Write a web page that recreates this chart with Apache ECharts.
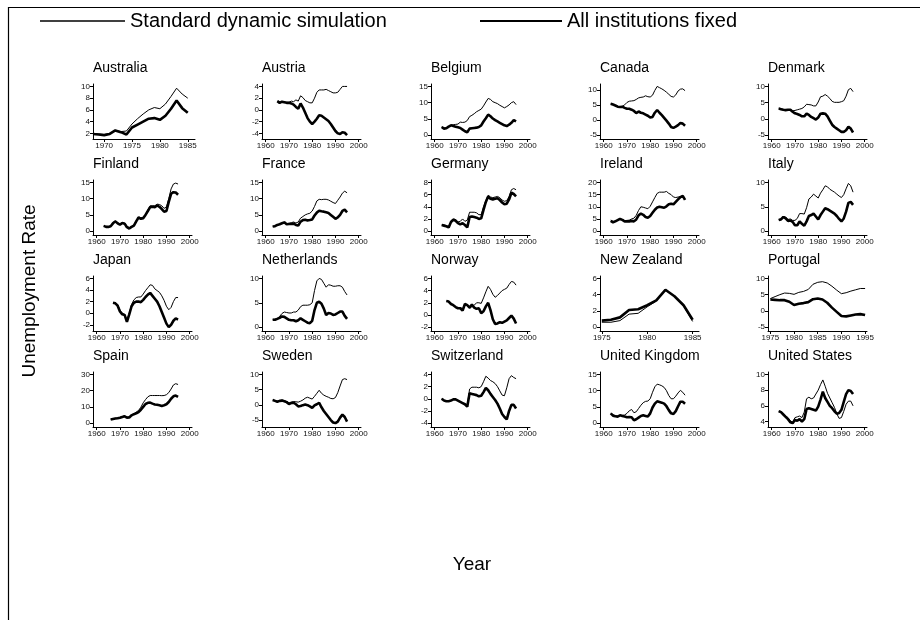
<!DOCTYPE html>
<html><head><meta charset="utf-8">
<script src="https://cdn.jsdelivr.net/npm/echarts@6/dist/echarts.min.js"></script>
<style>html,body{margin:0;padding:0;background:#fff}#c{width:920px;height:620px}</style>
</head><body><div id="c"></div><script>
// ---------- DATA ----------
const countries = ['Australia','Austria','Belgium','Canada','Denmark','Finland','France','Germany','Ireland','Italy',
  'Japan','Netherlands','Norway','New Zealand','Portugal','Spain','Sweden','Switzerland','United Kingdom','United States'];

const yrs6885 = [1968,1969,1970,1971,1972,1973,1974,1975,1976,1977,1978,1979,1980,1981,1982,1983,1984,1985];
const yrs6395 = [1963,1964,1965,1966,1967,1968,1969,1970,1971,1972,1973,1974,1975,1976,1977,1978,1979,1980,1981,1982,1983,1984,1985,1986,1987,1988,1989,1990,1991,1992,1993,1994,1995];
const yrs6595 = [1965,1966,1967,1968,1969,1970,1971,1972,1973,1974,1975,1976,1977,1978,1979,1980,1981,1982,1983,1984,1985,1986,1987,1988,1989,1990,1991,1992,1993,1994,1995];
const yrs6695 = [1966,1967,1968,1969,1970,1971,1972,1973,1974,1975,1976,1977,1978,1979,1980,1981,1982,1983,1984,1985,1986,1987,1988,1989,1990,1991,1992,1993,1994,1995];
const yrs6795 = [1967,1968,1969,1970,1971,1972,1973,1974,1975,1976,1977,1978,1979,1980,1981,1982,1983,1984,1985,1986,1987,1988,1989,1990,1991,1992,1993,1994,1995];
const yrs7585 = [1975,1976,1977,1978,1979,1980,1981,1982,1983,1984,1985];
const yrs7595 = [1975,1976,1977,1978,1979,1980,1981,1982,1983,1984,1985,1986,1987,1988,1989,1990,1991,1992,1993,1994,1995];

const xTicks60 = [1960,1970,1980,1990,2000];
const xTicksAus = [1970,1975,1980,1985];
const xTicksNZ = [1975,1980,1985];
const xTicksPrt = [1975,1980,1985,1990,1995];

const australiaStd = [1.9,1.9,1.8,2.0,2.5,2.3,2.4,3.6,4.5,5.3,6.0,6.4,6.2,7.0,8.3,9.7,8.7,8.0];
const australiaFix = [1.9,1.8,1.7,1.9,2.5,2.2,1.8,3.0,3.5,4.0,4.5,4.6,4.3,5.0,6.2,7.6,6.3,5.5];
const austriaStd = [1.5,1.3,1.4,1.3,1.3,1.3,1.5,1.4,1.7,1.5,2.4,2.1,1.6,1.4,1.2,1.2,2.0,3.0,3.4,3.4,3.4,3.5,3.3,3.1,2.9,2.9,3.0,3.5,4.0,4.0,4.0];
const austriaFix = [1.5,1.2,1.4,1.3,1.2,1.2,1.1,0.9,0.5,0.2,1.1,0.4,-0.5,-1.4,-2.0,-2.4,-2.0,-1.5,-0.9,-1.0,-1.3,-1.6,-1.9,-2.4,-3.0,-3.6,-4.0,-4.1,-3.8,-3.9,-4.3];
const belgiumStd = [2.5,2.2,2.3,2.5,3.0,3.2,3.3,3.4,4.0,3.9,4.0,4.5,5.7,6.1,6.6,7.2,7.6,8.0,9.0,10.2,11.3,11.0,10.3,10.0,9.7,9.2,8.8,8.4,8.8,9.3,10.0,10.3,9.4];
const belgiumFix = [2.5,2.0,2.1,2.6,3.0,2.8,2.6,2.4,2.2,1.7,1.2,0.9,2.0,2.1,2.2,2.3,2.5,3.0,4.2,5.2,6.3,5.8,5.1,4.6,4.2,3.8,3.4,3.0,2.8,3.2,3.8,4.6,4.2];
const canadaStd = [5.5,5.2,4.8,4.5,4.3,4.5,5.0,5.8,6.2,6.3,6.4,6.8,7.3,7.5,7.6,8.0,7.7,7.6,8.2,9.8,11.1,10.7,10.3,9.8,9.2,8.5,7.8,7.6,8.3,9.6,10.2,10.3,9.7];
const canadaFix = [5.4,5.1,4.8,4.4,4.3,4.4,4.0,3.7,3.7,3.4,3.0,2.3,2.8,2.4,2.2,1.8,1.4,0.8,1.0,2.4,3.3,2.4,1.6,0.7,-0.2,-1.2,-2.3,-2.6,-2.2,-1.7,-1.0,-1.2,-1.9];
const denmarkStd = [3.3,3.0,2.9,2.8,2.8,2.9,2.5,2.6,2.8,3.0,3.2,3.7,4.5,4.4,4.3,4.0,4.0,5.2,6.8,7.0,7.5,7.0,6.3,5.4,5.1,5.1,5.1,5.3,5.6,7.0,9.0,9.4,8.4];
const denmarkFix = [3.2,3.0,2.8,2.7,2.8,2.8,2.2,1.7,1.5,1.2,0.8,0.8,1.6,1.2,0.6,0.2,-0.2,0.4,1.6,1.7,1.6,0.8,-0.5,-1.8,-2.5,-3.0,-3.5,-4.0,-4.0,-3.5,-2.4,-3.0,-4.2];
const finlandStd = [1.6,1.4,1.4,1.6,2.6,3.2,2.6,2.2,2.6,2.5,1.5,1.1,1.4,1.8,3.2,4.3,4.1,4.2,5.2,6.5,7.8,7.8,7.8,8.3,8.2,7.8,7.0,7.5,10.0,13.0,14.5,14.8,14.5];
const finlandFix = [1.6,1.3,1.3,1.5,2.4,3.0,2.4,2.0,2.5,2.3,1.2,0.8,1.3,1.7,3.0,4.2,3.8,4.0,5.0,6.2,7.4,7.5,7.4,7.9,7.5,6.8,6.0,6.2,9.0,11.5,12.0,11.9,11.2];
const franceStd = [1.5,1.6,1.9,2.1,2.4,2.8,2.3,2.4,2.6,2.8,2.5,2.8,4.0,4.5,5.0,5.3,5.5,6.2,7.6,9.3,9.8,9.7,9.8,9.8,9.6,9.2,8.8,8.5,9.5,10.5,11.7,12.3,11.8];
const franceFix = [1.4,1.5,1.9,2.1,2.4,2.7,2.1,2.2,2.2,2.3,1.9,1.7,2.9,3.4,3.5,3.3,3.4,3.6,4.8,5.7,6.3,6.1,6.0,5.8,5.6,5.0,4.4,3.8,4.2,5.0,6.2,6.6,5.8];
const germanyStd = [1.0,1.0,0.9,0.7,1.6,2.0,1.9,1.5,1.6,2.0,1.6,1.8,3.1,3.1,3.1,3.0,2.7,2.7,4.0,5.0,5.9,5.6,5.5,5.6,5.7,5.5,5.1,4.9,5.0,5.7,6.8,7.0,6.8];
const germanyFix = [1.0,0.9,0.8,0.6,1.5,1.9,1.7,1.3,1.1,1.3,1.0,0.6,2.3,2.4,2.3,2.2,2.0,2.1,3.5,4.8,5.7,5.3,5.2,5.3,5.4,5.1,4.7,4.4,4.5,5.2,6.3,6.1,5.7];
const irelandStd = [4.5,4.0,4.2,4.5,5.0,4.8,4.3,4.4,4.5,5.0,5.3,6.5,8.5,10.0,9.8,9.5,9.2,10.2,12.0,13.8,15.5,16.0,16.0,16.0,16.3,15.5,15.0,14.0,13.8,14.0,14.2,14.0,13.0];
const irelandFix = [4.2,3.6,4.0,4.5,5.0,4.6,4.0,4.0,4.0,4.2,4.0,4.8,6.5,7.2,6.7,5.8,5.5,6.2,7.5,8.8,9.7,10.0,9.8,9.6,10.2,11.0,11.2,11.0,12.0,13.0,14.0,14.5,12.8];
const italyStd = [2.4,2.5,3.0,2.9,2.4,2.5,2.2,2.2,2.6,3.6,3.6,3.5,4.8,6.6,7.0,7.6,7.2,6.8,7.8,8.5,9.3,9.1,8.6,8.3,8.0,7.6,7.2,6.9,7.5,8.7,9.8,9.3,8.0];
const italyFix = [2.3,2.4,2.9,2.6,2.1,2.2,1.9,1.2,1.2,2.0,1.5,1.1,2.0,3.1,3.3,3.6,3.0,2.4,3.3,4.0,4.7,4.5,4.2,3.9,3.6,3.1,2.5,2.0,2.6,4.0,5.8,6.0,5.4];
const japanStd = [1.8,1.8,1.5,0.5,0.0,-0.2,-1.3,0.0,1.5,2.3,2.7,2.8,2.8,3.3,3.9,4.4,4.9,4.8,4.2,3.9,3.6,3.0,2.2,1.2,0.6,1.0,2.0,2.7,2.7];
const japanFix = [1.8,1.7,1.3,0.3,-0.2,-0.3,-1.5,-0.2,1.2,1.8,2.0,2.0,1.9,2.3,2.8,3.2,3.5,3.0,2.5,2.0,1.2,0.2,-0.8,-1.8,-2.4,-2.0,-1.3,-0.9,-1.1];
const netherlandsStd = [1.6,1.6,1.8,2.2,2.8,3.1,3.0,2.9,2.9,3.1,3.1,3.5,4.2,4.5,4.5,4.5,4.6,5.0,7.5,9.5,10.0,9.8,9.0,8.2,8.7,8.6,8.4,8.4,8.5,8.5,8.2,7.3,6.6];
const netherlandsFix = [1.5,1.5,1.7,1.9,2.2,2.1,1.8,1.5,1.4,1.4,1.2,1.4,1.8,1.5,1.2,0.9,0.8,1.3,3.5,5.0,5.2,4.8,3.8,2.5,2.9,2.8,2.5,2.6,2.9,3.2,3.2,2.3,1.7];
const norwayStd = [2.3,2.2,1.9,1.6,1.3,1.1,1.2,1.0,1.8,1.5,1.1,1.4,1.6,2.0,2.0,1.9,2.8,3.8,4.7,4.2,3.4,2.9,3.2,3.6,4.0,4.2,4.4,5.0,5.5,5.4,4.9];
const norwayFix = [2.3,2.2,1.8,1.6,1.3,1.1,1.1,0.7,1.8,1.6,1.2,1.7,1.2,1.0,1.1,0.3,0.6,1.4,2.0,0.8,-0.7,-1.5,-1.4,-1.2,-1.3,-1.1,-0.9,-0.5,-0.1,-0.6,-1.4];
const newZealandStd = [0.6,0.6,0.8,1.6,1.7,2.5,3.2,4.6,3.8,2.6,0.7];
const newZealandFix = [0.8,0.9,1.2,2.1,2.2,2.7,3.3,4.6,3.8,2.7,0.9];
const portugalStd = [3.8,4.4,5.0,5.5,5.4,5.1,5.7,6.0,6.6,8.2,8.8,9.0,8.6,7.6,6.4,5.3,5.6,6.1,6.5,6.9,6.9];
const portugalFix = [3.5,3.4,3.3,3.3,2.8,1.8,2.2,2.4,2.7,3.6,3.8,3.5,2.5,1.0,-0.3,-1.6,-1.7,-1.4,-1.1,-1.0,-1.3];
const spainStd = [2.4,2.6,3.0,3.2,3.5,4.0,4.5,3.6,3.8,5.0,5.8,6.8,7.8,9.8,12.5,14.5,16.2,17.0,17.0,17.0,17.0,17.0,16.9,17.0,17.5,18.8,21.0,23.5,24.3,23.8];
const spainFix = [2.2,2.5,2.8,3.0,3.3,3.8,4.2,3.4,3.5,4.8,5.5,6.0,6.8,8.2,10.0,11.8,12.5,12.6,12.0,11.5,11.3,11.0,10.6,11.0,11.6,13.0,15.0,16.5,17.0,16.2];
const swedenStd = [1.6,1.4,1.2,1.3,1.6,1.4,1.1,0.6,0.9,1.1,1.0,0.9,1.2,1.6,2.2,2.5,2.2,1.9,2.8,3.8,4.8,3.8,3.2,2.8,2.5,2.1,2.0,2.4,4.0,6.2,8.3,8.6,8.3];
const swedenFix = [1.6,1.3,1.0,1.3,1.4,1.2,0.9,0.3,0.6,0.7,0.2,-0.5,-0.4,-0.1,0.1,-0.1,-0.5,-1.0,-0.2,0.2,0.7,-0.8,-2.0,-3.0,-4.0,-5.0,-5.8,-6.0,-5.5,-4.2,-3.2,-4.0,-5.5];
const switzerlandStd = [0.0,-0.3,-0.4,-0.4,-0.3,-0.1,-0.1,-0.3,-0.5,-0.7,-0.9,-1.2,1.6,1.9,1.9,1.9,1.8,2.0,2.8,3.7,3.4,3.0,2.8,2.5,2.0,1.3,0.6,0.5,1.8,3.3,3.8,3.5,3.3];
const switzerlandFix = [0.0,-0.3,-0.4,-0.4,-0.3,-0.1,-0.1,-0.3,-0.5,-0.7,-0.9,-1.3,0.9,0.8,0.7,0.6,0.4,0.5,1.1,1.8,1.4,0.8,0.3,-0.2,-0.8,-1.6,-2.5,-3.0,-3.4,-2.0,-1.0,-1.0,-1.6];
const ukStd = [3.0,2.6,2.3,2.2,2.4,2.4,2.5,3.0,3.8,4.2,3.2,3.5,4.5,5.5,6.3,6.7,6.8,7.5,9.5,11.2,12.0,11.8,11.5,11.0,10.0,8.5,7.5,7.5,8.3,9.3,10.1,9.5,8.6];
const ukFix = [3.0,2.3,2.1,2.0,2.4,2.2,2.0,1.8,1.9,1.8,0.9,1.2,1.7,2.2,2.4,2.2,2.0,3.0,4.8,6.0,6.7,6.5,6.3,6.0,5.2,4.0,3.0,2.8,3.7,5.2,6.6,6.6,6.0];
const usStd = [5.3,5.3,5.0,4.7,4.5,4.1,3.9,4.5,4.6,4.7,4.5,5.2,6.9,7.1,6.9,7.0,7.5,8.0,8.7,9.3,8.5,7.6,7.0,6.4,5.8,5.0,4.4,4.5,5.3,6.2,6.6,6.6,6.0];
const usFix = [5.3,5.2,4.9,4.6,4.3,3.9,3.8,4.2,4.1,4.3,4.0,4.3,5.6,5.7,5.6,5.5,5.4,5.9,6.8,7.8,7.0,6.5,6.0,5.7,5.3,5.0,5.1,5.5,6.5,7.5,8.0,7.9,7.5];

const yTicks = [[2,4,6,8,10],[-4,-2,0,2,4],[0,5,10,15],[-5,0,5,10],[-5,0,5,10],
  [0,5,10,15],[0,5,10,15],[0,2,4,6,8],[0,5,10,15,20],[0,5,10],
  [-2,0,2,4,6],[0,5,10],[-2,0,2,4,6],[0,2,4,6],[-5,0,5,10],
  [0,10,20,30],[-5,0,5,10],[-4,-2,0,2,4],[0,5,10,15],[4,6,8,10]];

const panelYears = [yrs6885,yrs6595,yrs6395,yrs6395,yrs6395,yrs6395,yrs6395,yrs6395,yrs6395,yrs6395,
  yrs6795,yrs6395,yrs6595,yrs7585,yrs7595,yrs6695,yrs6395,yrs6395,yrs6395,yrs6395];
const stdValues = [australiaStd,austriaStd,belgiumStd,canadaStd,denmarkStd,finlandStd,franceStd,germanyStd,irelandStd,italyStd,
  japanStd,netherlandsStd,norwayStd,newZealandStd,portugalStd,spainStd,swedenStd,switzerlandStd,ukStd,usStd];
const fixValues = [australiaFix,austriaFix,belgiumFix,canadaFix,denmarkFix,finlandFix,franceFix,germanyFix,irelandFix,italyFix,
  japanFix,netherlandsFix,norwayFix,newZealandFix,portugalFix,spainFix,swedenFix,switzerlandFix,ukFix,usFix];
const panelXTicks = countries.map(n => n==='Australia'?xTicksAus : n==='New Zealand'?xTicksNZ : n==='Portugal'?xTicksPrt : xTicks60);

const legendNames = ['Standard dynamic simulation','All institutions fixed'];

// ---------- LAYOUT ----------
const FONT = '"Liberation Sans", Arial, Helvetica, sans-serif';
const colLeft = [93,262,431,600,768];
const rowTop = [84,180,276,372];
const plotW = 99, plotH = 55;
const xRangeDefault = [1958.4, 2001];
const xRangeSpecial = {'Australia':[1968,1986.3],'New Zealand':[1974.8,1985.7],'Portugal':[1974.5,1995.4]};
const plainNum = v => String(v);

const grid=[], xAxis=[], yAxis=[], series=[], title=[];
countries.forEach((name,i)=>{
  const r=Math.floor(i/5), c=i%5;
  const left=colLeft[c], top=rowTop[r];
  const w = name==='Australia'?102:plotW;
  grid.push({left:left, top:top, width:w, height:plotH, containLabel:false});
  const yrs=panelYears[i], s=stdValues[i], f=fixValues[i], yt=yTicks[i], xt=panelXTicks[i];
  const xr = xRangeSpecial[name] || xRangeDefault;
  const all=s.concat(f, yt);
  const lo=Math.min(...all), hi=Math.max(...all), sp=hi-lo;
  xAxis.push({type:'value', gridIndex:i, min:xr[0], max:xr[1],
    axisLine:{show:true,onZero:false,lineStyle:{color:'#000',width:1}},
    axisTick:{show:true,customValues:xt,length:3,lineStyle:{color:'#000'}},
    axisLabel:{customValues:xt,formatter:plainNum,fontSize:8,margin:3,color:'#111',fontFamily:FONT,hideOverlap:false},
    splitLine:{show:false}});
  yAxis.push({type:'value', gridIndex:i, min:lo-0.08*sp, max:hi+0.05*sp,
    axisLine:{show:true,onZero:false,lineStyle:{color:'#000',width:1}},
    axisTick:{show:true,customValues:yt,length:3,lineStyle:{color:'#000'}},
    axisLabel:{customValues:yt,formatter:plainNum,fontSize:8,margin:3,color:'#111',fontFamily:FONT,hideOverlap:false},
    splitLine:{show:false}});
  series.push({type:'line', name:legendNames[1], xAxisIndex:i, yAxisIndex:i,
    data:yrs.map((y,k)=>[y,f[k]]), symbol:'none', showSymbol:false,
    lineStyle:{color:'#000',width:2.6}, itemStyle:{color:'#000'}, silent:true, z:2});
  series.push({type:'line', name:legendNames[0], xAxisIndex:i, yAxisIndex:i,
    data:yrs.map((y,k)=>[y,s[k]]), symbol:'none', showSymbol:false,
    lineStyle:{color:'#000',width:1}, itemStyle:{color:'#000'}, silent:true, z:3});
  title.push({text:name, left:left, top:top-23, padding:0,
    textStyle:{fontSize:14,fontWeight:'normal',color:'#000',fontFamily:FONT}});
});

const chart = echarts.init(document.getElementById('c'), null, {renderer:'canvas'});
chart.setOption({
  animation:false,
  backgroundColor:'#fff',
  textStyle:{fontFamily:FONT},
  title:title,
  grid:grid, xAxis:xAxis, yAxis:yAxis, series:series,
  legend:[
    {data:[legendNames[0]], left:40, top:11, icon:'rect', itemWidth:85, itemHeight:1.3, itemGap:0, padding:0,
      selectedMode:false, itemStyle:{color:'#000'}, textStyle:{fontSize:20,color:'#000',fontFamily:FONT}},
    {data:[legendNames[1]], left:480, top:11, icon:'rect', itemWidth:82, itemHeight:1.8, itemGap:0, padding:0,
      selectedMode:false, itemStyle:{color:'#000'}, textStyle:{fontSize:20,color:'#000',fontFamily:FONT}}
  ],
  graphic:[
    {type:'polyline', shape:{points:[[8.5,620],[8.5,7.5],[920,7.5]]}, style:{stroke:'#000',lineWidth:1.2,fill:null}, silent:true},
    {type:'text', x:30, y:291, rotation:Math.PI/2,
      style:{text:'Unemployment Rate', fontSize:19, fontFamily:FONT, fill:'#000', align:'center', verticalAlign:'middle'}},
    {type:'text', x:472, y:565,
      style:{text:'Year', fontSize:19, fontFamily:FONT, fill:'#000', align:'center', verticalAlign:'middle'}}
  ]
});
</script></body></html>
